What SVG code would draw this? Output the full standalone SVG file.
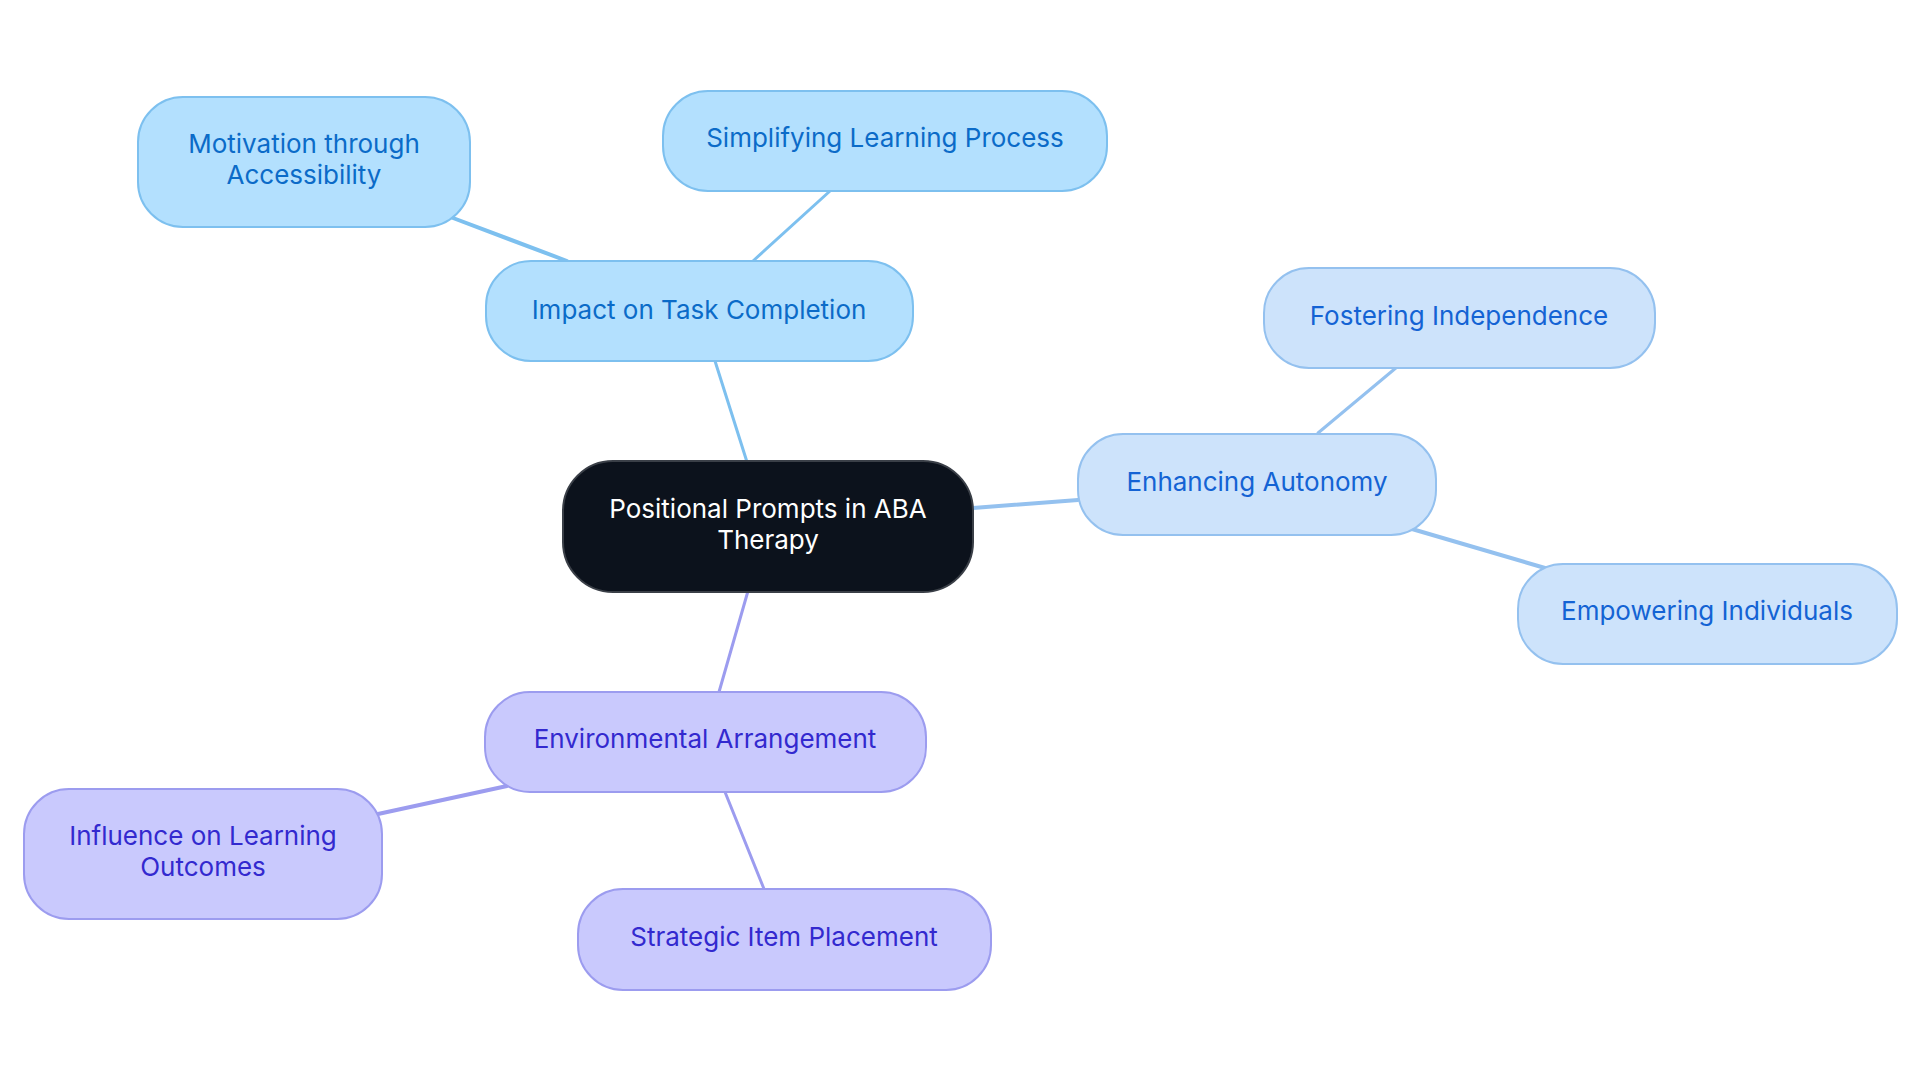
<svg xmlns="http://www.w3.org/2000/svg" width="1920" height="1083" viewBox="0 0 1920 1083">
<style>
text{font-family:Inter,"Noto Sans",sans-serif;font-size:26px;text-anchor:middle}
.root rect{fill:#0c121c;stroke:#3a3f47;stroke-width:2}
.root text{fill:#ffffff}
.b1 rect{fill:#b3e0fe;stroke:#7dc0ef;stroke-width:2}
.b1 text{fill:#0b6bc8}
.b2 rect{fill:#cde3fb;stroke:#94c1ef;stroke-width:2}
.b2 text{fill:#1463d4}
.b3 rect{fill:#c9c9fd;stroke:#9c9cef;stroke-width:2}
.b3 text{fill:#3329cf}
.c1{stroke:#7dc0ef}
.c2{stroke:#94c1ef}
.c3{stroke:#9c9cef}
#connectors line{stroke-linecap:round}
</style>
<rect width="1920" height="1083" fill="#ffffff"/>
<g id="connectors" fill="none">
<line class="c1" x1="747" y1="462" x2="715" y2="361" stroke-width="3"/>
<line class="c1" x1="567" y1="261" x2="453" y2="218" stroke-width="4"/>
<line class="c1" x1="753" y1="261" x2="830" y2="191" stroke-width="3"/>
<line class="c2" x1="973" y1="508" x2="1078" y2="500" stroke-width="4"/>
<line class="c2" x1="1318" y1="433" x2="1397" y2="367" stroke-width="3"/>
<line class="c2" x1="1412" y1="529" x2="1545" y2="568" stroke-width="4"/>
<line class="c3" x1="748" y1="591" x2="719" y2="692" stroke-width="3"/>
<line class="c3" x1="507" y1="786" x2="378" y2="814" stroke-width="4"/>
<line class="c3" x1="725" y1="792" x2="764" y2="889" stroke-width="3"/>
</g>
<g id="node-root" class="root">
<rect x="563" y="461" width="410" height="131" rx="50"/>
<text x="768" y="518">Positional Prompts in ABA</text>
<text x="768" y="549">Therapy</text>
</g>
<g id="node-impact" class="b1">
<rect x="486" y="261" width="427" height="100" rx="45"/>
<text x="699" y="319">Impact on Task Completion</text>
</g>
<g id="node-motivation" class="b1">
<rect x="138" y="97" width="332" height="130" rx="45"/>
<text x="304" y="153">Motivation through</text>
<text x="304" y="184">Accessibility</text>
</g>
<g id="node-simplifying" class="b1">
<rect x="663" y="91" width="444" height="100" rx="45"/>
<text x="885" y="147">Simplifying Learning Process</text>
</g>
<g id="node-autonomy" class="b2">
<rect x="1078" y="434" width="358" height="101" rx="45"/>
<text x="1257" y="491">Enhancing Autonomy</text>
</g>
<g id="node-fostering" class="b2">
<rect x="1264" y="268" width="391" height="100" rx="45"/>
<text x="1459" y="325">Fostering Independence</text>
</g>
<g id="node-empowering" class="b2">
<rect x="1518" y="564" width="379" height="100" rx="45"/>
<text x="1707" y="620">Empowering Individuals</text>
</g>
<g id="node-environmental" class="b3">
<rect x="485" y="692" width="441" height="100" rx="45"/>
<text x="705" y="748">Environmental Arrangement</text>
</g>
<g id="node-influence" class="b3">
<rect x="24" y="789" width="358" height="130" rx="45"/>
<text x="203" y="845">Influence on Learning</text>
<text x="203" y="876">Outcomes</text>
</g>
<g id="node-strategic" class="b3">
<rect x="578" y="889" width="413" height="101" rx="45"/>
<text x="784" y="946">Strategic Item Placement</text>
</g>
</svg>
